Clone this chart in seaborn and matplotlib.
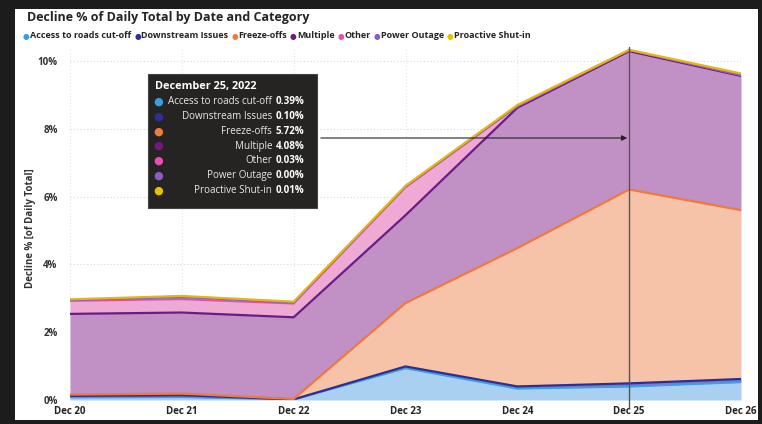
import numpy as np
import pandas as pd
import matplotlib
matplotlib.use("Agg")
import matplotlib.pyplot as plt
import seaborn as sns

dates = ["Dec 20", "Dec 21", "Dec 22", "Dec 23", "Dec 24", "Dec 25", "Dec 26"]
categories = ["Access to roads cut-off", "Downstream Issues", "Freeze-offs", "Multiple",
              "Other", "Power Outage", "Proactive Shut-in"]
access = [0.07, 0.08, 0.01, 0.93, 0.33, 0.39, 0.52]
downstream = [0.05, 0.06, 0.01, 0.06, 0.07, 0.10, 0.10]
freeze = [0.04, 0.05, 0.01, 1.87, 4.08, 5.72, 4.98]
multiple = [2.38, 2.39, 2.41, 2.59, 4.14, 4.08, 3.96]
other = [0.38, 0.39, 0.40, 0.82, 0.04, 0.03, 0.02]
power = [0.02, 0.06, 0.03, 0.02, 0.00, 0.00, 0.00]
proactive = [0.03, 0.04, 0.03, 0.03, 0.04, 0.01, 0.05]

tooltip_date = "December 25, 2022"
tooltip_values = ["0.39%", "0.10%", "5.72%", "4.08%", "0.03%", "0.00%", "0.01%"]
yticks = [0, 2, 4, 6, 8, 10]

fill_colors = ["#a9d0f0", "#6f7fd0", "#f6c3a9", "#c190c5", "#efa9d5", "#a785d8", "#f0d24a"]
line_colors = ["#3f9fe3", "#2a2f96", "#ef7a3e", "#6a1c86", "#e052a8", "#8a5cc6", "#e2b80f"]
dot_colors = ["#3a9de0", "#2d2f97", "#f07b3f", "#701a7f", "#e84fb0", "#8a5cc6", "#e8c000"]

series = [access, downstream, freeze, multiple, other, power, proactive]
df = pd.DataFrame({c: s for c, s in zip(categories, series)})
df["x"] = np.arange(len(dates))
cum = df[categories].cumsum(axis=1)

sns.set_theme(style="white")
plt.rcParams['font.family'] = ['Open Sans', 'DejaVu Sans']

W, H = 762, 424
fig = plt.figure(figsize=(W / 100, H / 100), dpi=100, facecolor="#1c1c1c")

# white panel
panel = fig.add_axes([15 / W, 1 - 420 / H, (758 - 15) / W, (420 - 9) / H])
panel.set_facecolor("white")
panel.set_xticks([]); panel.set_yticks([])
for s in panel.spines.values():
    s.set_visible(False)

ymax = 10.4
ax_top_px = 400 - ymax * 33.9
ax = fig.add_axes([70 / W, 1 - 400 / H, (741 - 70) / W, (400 - ax_top_px) / H])
ax.set_facecolor("none")
x = df["x"].values
prev = np.zeros(len(x))
for i, c in enumerate(categories):
    top = cum[c].values
    ax.fill_between(x, prev, top, color=fill_colors[i], lw=0, zorder=1)
    prev = top
for i, c in enumerate(categories):
    lw = 1.6 if i in (1, 2, 3, 6) else 1.2
    sns.lineplot(x=x, y=cum[c].values, ax=ax, color=line_colors[i], lw=lw, zorder=2 + i)

ax.set_xlim(0, len(dates) - 1)
ax.set_ylim(0, ymax)
ax.set_yticks(yticks)
ax.set_yticklabels([f"{v}%" for v in yticks], fontsize=7, fontweight="bold", color="#333333")
ax.set_xticks(x)
ax.set_xticklabels(dates, fontsize=7, fontweight="bold", color="#222222")
ax.tick_params(axis="both", length=0, pad=4)
ax.tick_params(axis="y", pad=9)
for yv in yticks:
    ax.axhline(yv, color="#d9d9d9", lw=0.8, ls=(0, (1, 2)), zorder=0.5)
for xv in x:
    ax.axvline(xv, color="#e6e6e6", lw=0.8, ls=(0, (1, 2)), zorder=0.5)
for s in ax.spines.values():
    s.set_visible(False)
ax.set_xlabel("")
ax.set_ylabel("")
fig.text(31 / W, 1 - 228 / H, "Decline % [of Daily Total]", fontsize=7, fontweight="bold",
         color="#333333", rotation=90, va="center", ha="center")

# hover line at Dec 25
ax.plot([5, 5], [-0.25, ymax], color="#555555", lw=1.0, zorder=20, clip_on=False)

# title and legend
fig.text(27 / W, 1 - 17 / H, "Decline % of Daily Total by Date and Category", fontsize=9,
         fontweight="bold", color="#252423", va="center", ha="left")
lx = 23
ly = 1 - 36 / H
for i, c in enumerate(categories):
    fig.text(lx / W, ly, "\u25cf", color=dot_colors[i], fontsize=5.5, va="center", ha="left",
             family=["DejaVu Sans"])
    t = fig.text((lx + 7) / W, ly, c, fontsize=6.5, fontweight="bold", color="#252423",
                 va="center", ha="left")
    fig.canvas.draw()
    bb = t.get_window_extent()
    lx = bb.x1 + 3

# tooltip
tt = plt.Rectangle((148 / W, 1 - 208 / H), (317 - 148) / W, (208 - 74) / H,
                   transform=fig.transFigure, facecolor="#252423", edgecolor="#444444",
                   lw=0.8, zorder=30)
fig.patches.append(tt)
fig.text(155 / W, 1 - 87 / H, tooltip_date, fontsize=7.8, fontweight="bold", color="white",
         va="center", ha="left", zorder=31)
for i, c in enumerate(categories):
    yy = 1 - (102 + i * 14.7) / H
    fig.text(153 / W, yy, "\u25cf", color=dot_colors[i], fontsize=8, va="center", ha="left",
             zorder=31, family=["DejaVu Sans"])
    fig.text(272 / W, yy, c, fontsize=7.1, color="#e8e8e8", va="center", ha="right", zorder=31)
    fig.text(276 / W, yy, tooltip_values[i], fontsize=7.1, fontweight="bold", color="white",
             va="center", ha="left", zorder=31)

# arrow from tooltip to line
fig.add_artist(matplotlib.patches.FancyArrowPatch(
    (318 / W, 1 - 138 / H), (630 / W, 1 - 138 / H), transform=fig.transFigure,
    arrowstyle="-|>", mutation_scale=8, color="#222222", lw=0.8, zorder=32))

fig.savefig("out.png", dpi=100, facecolor=fig.get_facecolor())
